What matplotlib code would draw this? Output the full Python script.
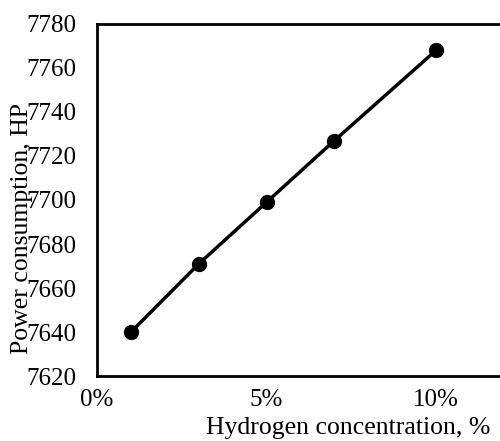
import matplotlib
matplotlib.use("Agg")
import matplotlib.pyplot as plt
from matplotlib.ticker import FuncFormatter

# Data
h2_frac = [0.01, 0.03, 0.05, 0.07, 0.10]
power_hp = [7640, 7671, 7699, 7727, 7768]
x_ticks = [0.0, 0.05, 0.10]
y_ticks = list(range(7620, 7781, 20))

plt.rcParams["font.family"] = ["Liberation Serif", "DejaVu Serif"]

fig = plt.figure(figsize=(5.0, 4.41), dpi=100)
ax = fig.add_axes([0.194, 0.147, 0.814, 0.799])

ax.plot(h2_frac, power_hp, color="black", linewidth=2.5,
        marker="o", markersize=10, markerfacecolor="black")

ax.set_xlim(0, 0.12)
ax.set_ylim(7620, 7780)
ax.set_xticks(x_ticks)
ax.set_yticks(y_ticks)
ax.xaxis.set_major_formatter(FuncFormatter(lambda v, p: f"{v*100:.0f}%"))

ax.tick_params(axis="both", length=0, labelsize=18)
ax.tick_params(axis="y", pad=15)
ax.tick_params(axis="x", pad=9)

for side in ["left", "bottom", "top"]:
    ax.spines[side].set_linewidth(2)
ax.spines["right"].set_visible(False)

ax.set_xlabel("Hydrogen concentration, %", fontsize=18.5)
ax.xaxis.set_label_coords(0.617, -0.148)
ax.xaxis.label.set_va("center")
ax.set_ylabel("Power consumption, HP", fontsize=18.5)
ax.yaxis.set_label_coords(-0.184, 0.42)
ax.yaxis.label.set_va("center")

fig.savefig("out.png", dpi=100)
